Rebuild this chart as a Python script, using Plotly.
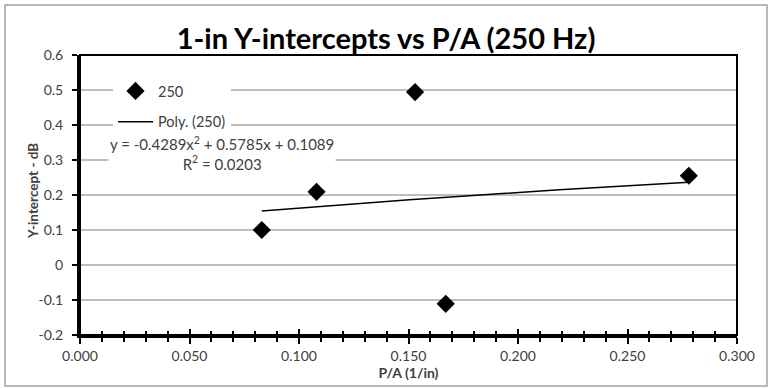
import numpy as np
import plotly.graph_objects as go

# Data
pa_values = [0.083, 0.108, 0.153, 0.167, 0.278]
y_intercepts = [0.100, 0.209, 0.494, -0.111, 0.255]
trend_coeffs = [-0.4289, 0.5785, 0.1089]  # y = a x^2 + b x + c
r_squared = 0.0203
x_tick_vals = [0.0, 0.05, 0.10, 0.15, 0.20, 0.25, 0.30]
x_tick_text = ["0.000", "0.050", "0.100", "0.150", "0.200", "0.250", "0.300"]
y_tick_vals = [-0.2, -0.1, 0, 0.1, 0.2, 0.3, 0.4, 0.5, 0.6]
y_tick_text = ["-0.2", "-0.1", "0", "0.1", "0.2", "0.3", "0.4", "0.5", "0.6"]

FONT = "Lato, Calibri, Carlito, sans-serif"

xs = np.linspace(min(pa_values), max(pa_values), 100)
ys = np.polyval(trend_coeffs, xs)

fig = go.Figure()
fig.add_trace(go.Scatter(
    x=pa_values, y=y_intercepts, mode="markers", name="250", legendgroup="a",
    marker=dict(symbol="diamond", size=14, color="black"),
))
fig.add_trace(go.Scatter(
    x=xs, y=ys, mode="lines", name="Poly. (250)", legendgroup="b",
    line=dict(color="black", width=1.5),
))
# invisible trace on the overlay axis for inside ticks
fig.add_trace(go.Scatter(x=[None], y=[None], xaxis="x2", showlegend=False, hoverinfo="skip"))

W, H = 772, 388
L, R, T, B = 80, 35, 55, 53
pw, ph = W - L - R, H - T - B

def px_x(p):
    return (p - L) / pw

def px_y(p):
    return (H - B - p) / ph

eq = ("y = %.4fx<sup>2</sup> + %.4fx + %.4f<br>R<sup>2</sup> = %.4f"
      % (trend_coeffs[0], trend_coeffs[1], trend_coeffs[2], r_squared))

fig.update_layout(
    width=W, height=H,
    margin=dict(l=L, r=R, t=T, b=B),
    paper_bgcolor="white", plot_bgcolor="white",
    font=dict(family=FONT, color="#404040", size=14),
    title=dict(text="<b>1-in Y-intercepts vs P/A (250 Hz)</b>",
               font=dict(family=FONT, size=29, color="black"),
               x=0.5, xanchor="center", y=1 - 39 / H, yanchor="middle"),
    xaxis=dict(range=[0, 0.3], tickvals=x_tick_vals, ticktext=x_tick_text,
               showgrid=False, zeroline=False, showline=True, linecolor="black",
               linewidth=3, ticks="outside", ticklen=6, tickwidth=2, tickcolor="black",
               minor=dict(dtick=0.01, ticks="outside", ticklen=4, tickwidth=1.5,
                          tickcolor="black"),
               tickfont=dict(size=14, color="#404040"),
               title=dict(text="<b>P/A (1/in)</b>", font=dict(size=14, color="#404040"),
                          standoff=2)),
    xaxis2=dict(range=[0, 0.3], overlaying="x", side="bottom", showgrid=False,
                zeroline=False, showline=False, showticklabels=False,
                tickvals=x_tick_vals, ticks="inside", ticklen=6, tickwidth=2,
                tickcolor="black",
                minor=dict(dtick=0.01, ticks="inside", ticklen=4, tickwidth=1.5,
                           tickcolor="black")),
    yaxis=dict(range=[-0.2, 0.6], tickvals=y_tick_vals, ticktext=y_tick_text,
               showgrid=True, gridcolor="#bfbfbf", gridwidth=1.5, zeroline=False,
               showline=True, linecolor="black", linewidth=3,
               ticks="outside", ticklen=5, tickwidth=2, tickcolor="black",
               ticklabelstandoff=6,
               tickfont=dict(size=14, color="#404040")),
    legend=dict(x=px_x(113), y=px_y(75), xanchor="left", yanchor="top",
                bgcolor="white", borderwidth=0, font=dict(size=14.5, color="#404040"),
                itemwidth=35, tracegroupgap=9),
    showlegend=True,
    annotations=[
        dict(text=eq, x=px_x(222), y=px_y(153), xref="paper", yref="paper",
             xanchor="center", yanchor="middle",
             showarrow=False, align="center", bgcolor="white",
             font=dict(size=15, color="#404040")),
        dict(text="<b>Y-intercept - dB</b>", x=px_x(33), y=px_y(191),
             xref="paper", yref="paper", xanchor="center", yanchor="middle",
             textangle=-90, showarrow=False,
             font=dict(size=13.5, color="#404040")),
    ],
    shapes=[
        dict(type="rect", xref="paper", yref="paper", x0=0, x1=1, y0=0, y1=1,
             line=dict(color="black", width=2), layer="above"),
        dict(type="rect", xref="paper", yref="paper",
             x0=px_x(5), x1=px_x(767), y0=px_y(386), y1=px_y(5),
             line=dict(color="#a0a0a0", width=1.5)),
    ],
)

fig.write_html("out.html", config={"displayModeBar": False},
               post_script="document.body.style.margin='0';document.body.style.padding='0';")
